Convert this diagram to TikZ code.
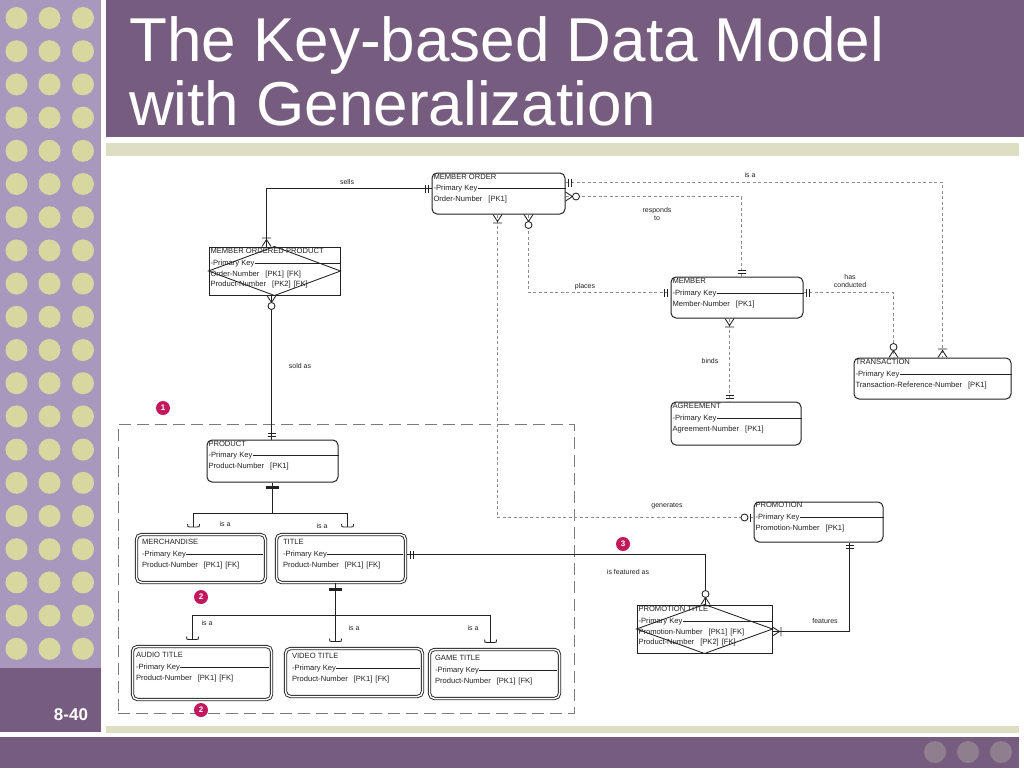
\documentclass[tikz,border=0pt]{standalone}
\usepackage{fontspec}
\setmainfont{Liberation Sans}
\usetikzlibrary{calc}
\definecolor{titlebar}{HTML}{765C7E}
\definecolor{leftpanel}{HTML}{A898BE}
\definecolor{dotc}{HTML}{D6D8A0}
\definecolor{greenbar}{HTML}{DEDFC2}
\definecolor{botdot}{HTML}{8E7E8E}
\definecolor{marker}{HTML}{C2185E}
\definecolor{inkc}{HTML}{222222}
\definecolor{dashc}{HTML}{8C8C8C}
\definecolor{grpc}{HTML}{7A7A7A}
\tikzset{
 ent/.style={draw=inkc, line width=1pt, rounded corners=5pt, inner sep=0pt},
 entsq/.style={draw=inkc, line width=1pt, inner sep=0pt},
 entdbl/.style={draw=inkc, line width=0.9pt, double=white, double distance=1.5pt, rounded corners=5pt, inner sep=0pt},
 etxt/.style={font=\fontsize{7.6}{8}\selectfont, text=inkc, inner sep=0.3pt, anchor=west, text height=5.6pt, text depth=1.5pt},
 pkline/.style={draw=inkc, line width=0.75pt},
 solidrel/.style={draw=inkc, line width=0.85pt},
 dashrel/.style={draw=dashc, line width=0.7pt, dash pattern=on 3pt off 2.5pt},
 ersym/.style={draw=inkc, line width=0.85pt, solid},
 grpbox/.style={draw=grpc, line width=0.7pt, dash pattern=on 12pt off 6pt, inner sep=0pt},
 lbl/.style={font=\fontsize{7}{8.5}\selectfont, text=inkc, inner sep=0pt, align=center},
 badge/.style={circle, fill=marker, text=white, font=\bfseries\fontsize{8}{8}\selectfont, inner sep=0pt, minimum size=14pt},
 erone/.pic={\draw[ersym] (3,-4) -- (3,4) (6,-4) -- (6,4);},
 ermanyone/.pic={\draw[ersym] (0,-4.5) -- (7,0) -- (0,4.5) (8.5,-4.5) -- (8.5,4.5);},
 ermanyzero/.pic={\draw[ersym] (0,-4.5) -- (7,0) -- (0,4.5); \draw[ersym, fill=white] (10.5,0) circle (3.5);},
 erzeroone/.pic={\draw[ersym] (3,-4) -- (3,4); \draw[ersym, fill=white] (9,0) circle (3.5);},
 subt/.pic={\draw[ersym] (-6,-3) .. controls (-6,0) .. (-3,0) -- (3,0) .. controls (6,0) .. (6,-3);},
 gbar/.pic={\draw[draw=inkc, line width=2.2pt] (-6.5,0) -- (6.5,0);},
}
\newcommand\enttext[7]{%
 \node[etxt] (#1-t) at ($(#1.north west)+(#2,#3)$) {#4};
 \node[etxt] (#1-k) at ($(#1.north west)+(#2,#3+11.5)$) {-Primary Key};
 \draw[pkline, shorten >=#7pt] (#1-k.east) -- (#1.east |- #1-k.east);
 \node[etxt] (#1-a) at ($(#1.north west)+(#2,#3+22.5)$) {#5};
 \node[etxt] (#1-b) at ($(#1.north west)+(#2,#3+32.5)$) {#6};
}
\newcommand\pka{\hspace{6pt}[PK1]}
\newcommand\fkx{\hspace{3pt}[FK]}
\begin{document}
\begin{tikzpicture}[x=1pt,y=-1pt]
\useasboundingbox (0,0) rectangle (1024,768);
\fill[white] (0,0) rectangle (1024,768);
% slide frame
\fill[leftpanel] (0,0) rectangle (101,668);
\foreach \r in {0,...,19} \foreach \c in {16.5,49.5,83} \fill[dotc] (\c,{18+33.2*\r}) circle (11);
\fill[titlebar] (0,668) rectangle (101,732);
\fill[titlebar] (106,0) rectangle (1024,137);
\fill[greenbar] (106,143) rectangle (1019,156);
\fill[greenbar] (106,726) rectangle (1019,733);
\fill[titlebar] (0,737) rectangle (1019,768);
\foreach \c in {935,968,1001} \fill[botdot] (\c,752) circle (11);
\node[anchor=base west, text=white, font=\fontsize{62}{62}\selectfont, inner sep=0pt] (t1) at (129,62) {The Key-based Data Model};
\node[anchor=base west, text=white, font=\fontsize{62}{62}\selectfont, inner sep=0pt] (t2) at (129,125) {with Generalization};
\node[text=white, font=\bfseries\fontsize{17}{17}\selectfont, inner sep=0pt] (num) at (71,715) {8-40};

% group box
\node[grpbox, minimum width=456pt, minimum height=289pt] (grp) at (346,568.5) {};

% entities
\node[ent, minimum width=133pt, minimum height=41pt] (mo) at (498.5,193.5) {};
\node[ent, minimum width=132pt, minimum height=41pt] (member) at (737,297.5) {};
\node[ent, minimum width=130pt, minimum height=43pt] (agree) at (736,423.5) {};
\node[ent, minimum width=157pt, minimum height=41pt] (trans) at (932.5,378.5) {};
\node[entsq, minimum width=131pt, minimum height=48pt] (mop) at (274.5,271) {};
\node[ent, minimum width=131pt, minimum height=42pt] (product) at (272.5,461) {};
\node[entdbl, minimum width=129pt, minimum height=48pt] (merch) at (201,558.5) {};
\node[entdbl, minimum width=129pt, minimum height=48pt] (ttl) at (341,558.5) {};
\node[entdbl, minimum width=139pt, minimum height=53pt] (audio) at (202,673) {};
\node[entdbl, minimum width=137pt, minimum height=48pt] (video) at (354,672.5) {};
\node[entdbl, minimum width=130pt, minimum height=49pt] (game) at (494.5,674) {};
\node[ent, minimum width=129pt, minimum height=40pt] (promo) at (818.5,522) {};
\node[entsq, minimum width=135pt, minimum height=48pt] (ptitle) at (704.5,629) {};

% associative diamonds
\draw[solidrel] (mop.west) -- (mop.north) -- (mop.east) -- (mop.south) -- cycle;
\draw[solidrel] (ptitle.west) -- (ptitle.north) -- (ptitle.east) -- (ptitle.south) -- cycle;

% entity texts
\enttext{mo}{1.5}{4.5}{MEMBER ORDER}{Order-Number\pka}{}{0}
\enttext{member}{1.5}{5}{MEMBER}{Member-Number\pka}{}{0}
\enttext{agree}{1.5}{5}{AGREEMENT}{Agreement-Number\pka}{}{0}
\enttext{trans}{1.5}{5}{TRANSACTION}{Transaction-Reference-Number\pka}{}{0}
\enttext{mop}{1.5}{5}{MEMBER ORDERED PRODUCT}{Order-Number\pka\fkx}{Product-Number\hspace{6pt}[PK2]\fkx}{0}
\enttext{product}{1.5}{4.5}{PRODUCT}{Product-Number\pka}{}{0}
\enttext{merch}{5.5}{8.5}{MERCHANDISE}{Product-Number\pka\fkx}{}{3}
\enttext{ttl}{6.5}{8.5}{TITLE}{Product-Number\pka\fkx}{}{3}
\enttext{audio}{3.5}{9.5}{AUDIO TITLE}{Product-Number\pka\fkx}{}{3}
\enttext{video}{6.5}{8.5}{VIDEO TITLE}{Product-Number\pka\fkx}{}{3}
\enttext{game}{5.5}{9.5}{GAME TITLE}{Product-Number\pka\fkx}{}{3}
\enttext{promo}{1.5}{4}{PROMOTION}{Promotion-Number\pka}{}{0}
\enttext{ptitle}{1.5}{5}{PROMOTION TITLE}{Promotion-Number\pka\fkx}{Product-Number\hspace{6pt}[PK2]\fkx}{0}

% connector end points
\coordinate (mop-top) at ($(mop.north west)+(58,0)$);
\coordinate (mo-w) at ($(mo.north west)+(0,16)$);
\coordinate (mop-bot) at ($(mop.south west)+(63,0)$);
\coordinate (prod-top) at ($(product.north west)+(65,0)$);
\coordinate (mo-e1) at ($(mo.north east)+(0,10)$);
\coordinate (tr-n2) at ($(trans.north west)+(89,0)$);
\coordinate (mo-e2) at ($(mo.north east)+(0,24)$);
\coordinate (mem-n) at ($(member.north west)+(71,0)$);
\coordinate (mo-s1) at ($(mo.south west)+(66,0)$);
\coordinate (pro-w) at ($(promo.north west)+(0,16)$);
\coordinate (mo-s2) at ($(mo.south west)+(97,0)$);
\coordinate (mem-w) at ($(member.north west)+(0,16)$);
\coordinate (mem-e) at ($(member.north east)+(0,16)$);
\coordinate (tr-n1) at ($(trans.north west)+(40,0)$);
\coordinate (mem-s) at ($(member.south west)+(59,0)$);
\coordinate (ag-n) at ($(agree.north west)+(59,0)$);
\coordinate (prod-bot) at ($(product.south west)+(66,0)$);
\coordinate (gen1) at ($(prod-bot)+(0,31)$);
\coordinate (merch-s) at ($(merch.north west)+(57.5,-7)$);
\coordinate (ttl-s) at ($(ttl.north west)+(71.5,-7)$);
\coordinate (ttl-bot) at ($(ttl.south west)+(59.5,0)$);
\coordinate (gen2) at ($(ttl-bot)+(0,32.5)$);
\coordinate (audio-s) at ($(audio.north west)+(60.5,-6.5)$);
\coordinate (video-s) at ($(video.north west)+(50.5,-6.5)$);
\coordinate (game-s) at ($(game.north west)+(61.5,-6.5)$);
\coordinate (ttl-e) at ($(ttl.north east)+(1.5,20.5)$);
\coordinate (pt-n) at ($(ptitle.north west)+(69,0)$);
\coordinate (pro-s) at ($(promo.south west)+(96,0)$);
\coordinate (pt-e) at ($(ptitle.north east)+(0,27)$);

% connectors
\draw[solidrel] (mop-top) |- (mo-w);
\draw[solidrel] (mop-bot) -- (prod-top);
\draw[dashrel] (mo-e1) -| (tr-n2);
\draw[dashrel] (mo-e2) -| (mem-n);
\draw[dashrel] (mo-s1) |- (pro-w);
\draw[dashrel] (mo-s2) |- (mem-w);
\draw[dashrel] (mem-e) -| (tr-n1);
\draw[dashrel] (mem-s) -- (ag-n);
\draw[solidrel] (prod-bot) -- (gen1);
\draw[solidrel] (merch-s) |- (gen1) -| (ttl-s);
\draw[solidrel] (ttl-bot) -- (video-s);
\draw[solidrel] (audio-s) |- (gen2) -| (game-s);
\draw[solidrel] (ttl-e) -| (pt-n);
\draw[solidrel] (pro-s) |- (pt-e);

% end symbols
\pic[rotate=90] at (mop-top) {ermanyone};
\pic[rotate=180] at (mo-w) {erone};
\pic[rotate=-90] at (mop-bot) {ermanyzero};
\pic[rotate=90] at (prod-top) {erone};
\pic at (mo-e1) {erone};
\pic[rotate=90] at (tr-n2) {ermanyone};
\pic at (mo-e2) {ermanyzero};
\pic[rotate=90] at (mem-n) {erone};
\pic[rotate=-90] at (mo-s1) {ermanyone};
\pic[rotate=180] at (pro-w) {erzeroone};
\pic[rotate=-90] at (mo-s2) {ermanyzero};
\pic[rotate=180] at (mem-w) {erone};
\pic at (mem-e) {erone};
\pic[rotate=90] at (tr-n1) {ermanyzero};
\pic[rotate=-90] at (mem-s) {ermanyone};
\pic[rotate=90] at (ag-n) {erone};
\pic at ($(prod-bot)+(0,5)$) {gbar};
\pic at (merch-s) {subt};
\pic at (ttl-s) {subt};
\pic at ($(ttl-bot)+(0,6.5)$) {gbar};
\pic at (audio-s) {subt};
\pic at (video-s) {subt};
\pic at (game-s) {subt};
\pic at (ttl-e) {erone};
\pic[rotate=90] at (pt-n) {ermanyzero};
\pic[rotate=-90] at (pro-s) {erone};
\pic at (pt-e) {ermanyone};

% labels
\node[lbl] (l-sells) at (347,182) {sells};
\node[lbl] (l-isa0) at (750,175) {is a};
\node[lbl] (l-resp) at (657,214) {responds\\to};
\node[lbl] (l-places) at (585,287) {places};
\node[lbl] (l-has) at (850,281) {has\\conducted};
\node[lbl] (l-binds) at (710,361) {binds};
\node[lbl] (l-sold) at (300,366) {sold as};
\node[lbl] (l-isa1) at (225,524) {is a};
\node[lbl] (l-isa2) at (322,526) {is a};
\node[lbl] (l-gen) at (667,506) {generates};
\node[lbl] (l-feat) at (628,572) {is featured as};
\node[lbl] (l-feats) at (825,621) {features};
\node[lbl] (l-isa3) at (207,623) {is a};
\node[lbl] (l-isa4) at (354,628) {is a};
\node[lbl] (l-isa5) at (473,628) {is a};

% badges
\node[badge] (b1) at (163,408) {1};
\node[badge] (b2) at (201,597) {2};
\node[badge] (b2b) at (201,710) {2};
\node[badge] (b3) at (623,544) {3};
\end{tikzpicture}
\end{document}
